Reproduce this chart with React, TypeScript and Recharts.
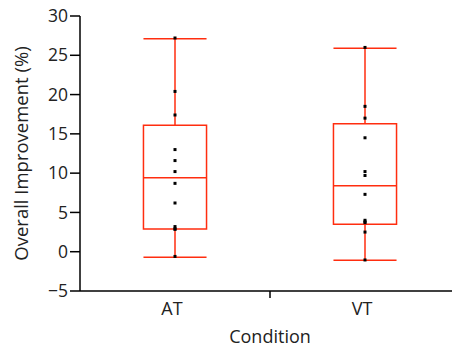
import React from 'react';
import {
  ComposedChart,
  XAxis,
  YAxis,
  Scatter,
  ReferenceArea,
  ReferenceLine,
} from 'recharts';

const categories = ['AT', 'VT'];
const whiskerLow = [-0.7, -1.1];
const q1 = [2.9, 3.5];
const median = [9.4, 8.4];
const q3 = [16.1, 16.3];
const whiskerHigh = [27.1, 25.9];
const atPoints = [27.2, 20.4, 17.4, 13.0, 11.6, 10.2, 8.7, 6.2, 3.2, 2.85, 2.9, -0.6];
const vtPoints = [26.0, 18.5, 17.0, 14.5, 10.2, 9.7, 7.3, 4.0, 3.7, 3.8, 2.5, -1.05];
const yTicks = [-5, 0, 5, 10, 15, 20, 25, 30];

const RED = '#ff2d0f';
const FONT = '"Open Sans", sans-serif';
const TEXT = '#222';
const HALF = 0.166;

const pointData = [
  ...atPoints.map((v) => ({ x: 1, y: v })),
  ...vtPoints.map((v) => ({ x: 2, y: v })),
];

const XTick = (props: any) => {
  const { x, y, payload } = props;
  const v = payload.value;
  if (v === 1.5) {
    return <line x1={x} y1={y} x2={x} y2={y + 7} stroke="#000" strokeWidth={1.5} />;
  }
  const label = categories[Math.round(v) - 1];
  return (
    <text x={x - 3} y={y + 24} textAnchor="middle" fill={TEXT} fontSize={18} fontFamily={FONT}>
      {label}
    </text>
  );
};

const Dot = (props: any) => {
  const { cx, cy } = props;
  return <rect x={cx - 1.5} y={cy - 1.5} width={3} height={3} fill="#000" />;
};

export default function App() {
  return (
    <div style={{ position: 'absolute', left: 0, top: 0, width: 452, height: 347, overflow: 'hidden', background: '#fff' }}>
      <ComposedChart
        width={470}
        height={347}
        data={pointData}
        margin={{ top: 16, right: 10, bottom: 0, left: 0 }}
      >
        <XAxis
          type="number"
          dataKey="x"
          domain={[0.5, 2.5]}
          ticks={[1, 1.5, 2]}
          tick={<XTick />}
          tickLine={false}
          tickSize={0}
          tickMargin={0}
          axisLine={{ stroke: '#000', strokeWidth: 1.5 }}
          height={56}
          label={{ value: 'Condition', position: 'insideBottom', offset: 4, fill: TEXT, fontSize: 18, fontFamily: FONT }}
          allowDataOverflow
        />
        <YAxis
          type="number"
          dataKey="y"
          domain={[-5, 30]}
          ticks={yTicks}
          width={80}
          tickSize={10}
          tickMargin={2}
          tickFormatter={(v: number) => String(v).replace('-', '\u2212')}
          tick={{ fill: TEXT, fontSize: 17.5, fontFamily: FONT }}
          tickLine={{ stroke: '#000', strokeWidth: 1.5 }}
          axisLine={{ stroke: '#000', strokeWidth: 1.5 }}
          label={{ value: 'Overall Improvement (%)', angle: -90, position: 'insideLeft', offset: 21, fill: TEXT, fontSize: 18.5, fontFamily: FONT, style: { textAnchor: 'middle' } }}
          allowDataOverflow
        />
        {categories.map((c, i) => (
          <ReferenceArea
            key={'box' + c}
            x1={i + 1 - HALF}
            x2={i + 1 + HALF}
            y1={q1[i]}
            y2={q3[i]}
            fill="none"
            fillOpacity={0}
            stroke={RED}
            strokeWidth={1.5}
            ifOverflow="visible"
          />
        ))}
        {categories.map((c, i) => (
          <ReferenceLine
            key={'med' + c}
            segment={[{ x: i + 1 - HALF, y: median[i] }, { x: i + 1 + HALF, y: median[i] }]}
            stroke={RED}
            strokeWidth={1.5}
            ifOverflow="visible"
          />
        ))}
        {categories.map((c, i) => (
          <ReferenceLine
            key={'wlo' + c}
            segment={[{ x: i + 1, y: whiskerLow[i] }, { x: i + 1, y: q1[i] }]}
            stroke={RED}
            strokeWidth={1.5}
            ifOverflow="visible"
          />
        ))}
        {categories.map((c, i) => (
          <ReferenceLine
            key={'whi' + c}
            segment={[{ x: i + 1, y: q3[i] }, { x: i + 1, y: whiskerHigh[i] }]}
            stroke={RED}
            strokeWidth={1.5}
            ifOverflow="visible"
          />
        ))}
        {categories.map((c, i) => (
          <ReferenceLine
            key={'caplo' + c}
            segment={[{ x: i + 1 - HALF, y: whiskerLow[i] }, { x: i + 1 + HALF, y: whiskerLow[i] }]}
            stroke={RED}
            strokeWidth={1.5}
            ifOverflow="visible"
          />
        ))}
        {categories.map((c, i) => (
          <ReferenceLine
            key={'caphi' + c}
            segment={[{ x: i + 1 - HALF, y: whiskerHigh[i] }, { x: i + 1 + HALF, y: whiskerHigh[i] }]}
            stroke={RED}
            strokeWidth={1.5}
            ifOverflow="visible"
          />
        ))}
        <Scatter dataKey="y" shape={<Dot />} isAnimationActive={false} />
      </ComposedChart>
    </div>
  );
}
